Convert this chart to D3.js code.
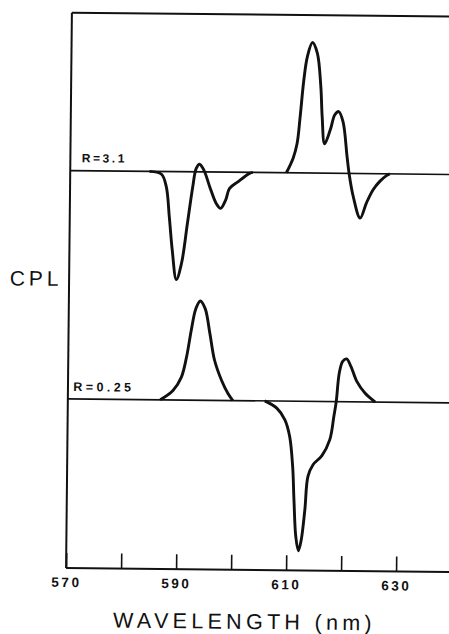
<!DOCTYPE html>
<html><head><meta charset="utf-8">
<script src="https://cdn.jsdelivr.net/npm/d3@7"></script>
<style>body{margin:0;background:#fff}svg{display:block}</style>
</head><body>
<svg id="chart" width="449" height="634"></svg>
<script>
// Wavelength (nm) and CPL (arbitrary units) for R = 3.1
const wavelengthR31 = [584.4, 586.6, 587.5, 588.1, 588.7, 589.5, 590.4, 591.4, 592.3, 592.9, 593.5, 594.3, 595.4, 596.6, 597.4, 598.3, 599.0, 600.5, 602.6, 603.2, 606.3, 609.3, 610.5, 611.2, 611.7, 612.3, 612.9, 613.8, 614.7, 615.4, 615.7, 616.2, 617.2, 618.0, 618.7, 619.5, 620.3, 620.7, 621.5, 622.8, 623.9, 625.1, 626.3, 627.5, 628.1];
const cplR31 = [0, -2.8, -15.4, -45.4, -78.7, -107.9, -91.8, -51.8, -15.1, 3.4, 7.7, 1.8, -14.9, -31.4, -36.3, -28, -16.2, -9.5, -1, 0, 0, 0, 14.6, 29.6, 56.3, 93, 116.4, 130.5, 119.9, 86.6, 56.6, 29.4, 43.4, 58.5, 61.8, 51.8, 16.9, 0, -23, -44.5, -29.4, -16, -7.6, -1.8, 0];
// Wavelength (nm) and CPL (arbitrary units) for R = 0.25
const wavelengthR025 = [586.8, 589.1, 590.6, 591.5, 592.3, 593.1, 593.9, 594.8, 595.7, 596.6, 597.9, 599.1, 600.0, 603.0, 605.8, 608.0, 609.5, 610.4, 611.0, 611.3, 611.7, 612.2, 612.7, 613.3, 613.8, 614.7, 616.3, 617.7, 618.4, 618.8, 619.3, 619.9, 620.6, 621.4, 622.5, 624.0, 625.9];
const cplR025 = [0, 9.4, 22.9, 43, 69.7, 91.5, 99.2, 91.6, 66.7, 40.1, 20.2, 7, 0, 0, 0, -7.1, -18.7, -35.3, -65.3, -98.6, -135.3, -149.5, -138.5, -108.4, -75.1, -63.3, -54.2, -38.1, -14.7, 0, 28.7, 40.3, 42.8, 35.4, 20.5, 9, 0];
const seriesLabels = ["R=3.1", "R=0.25"];
const tickValues = [570, 580, 590, 600, 610, 620, 630];
const tickLabels = [570, 590, 610, 630];

const svg = d3.select("#chart");
const g = svg.append("g").attr("transform", "rotate(0.6, 258, 290)");

const x = d3.scaleLinear().domain([570, 640]).range([69, 454]);
const frameTop = 14.6, frameBottom = 570;
const y31 = d3.scaleLinear().domain([0, 100]).range([172.5, 72.5]);
const y025 = d3.scaleLinear().domain([0, 100]).range([400.8, 300.8]);

// frame
g.append("line").attr("x1", x(570)).attr("x2", x(570)).attr("y1", frameTop).attr("y2", frameBottom)
  .attr("stroke", "#111").attr("stroke-width", 2);
g.append("line").attr("x1", x(570)).attr("x2", 470).attr("y1", frameTop).attr("y2", frameTop)
  .attr("stroke", "#111").attr("stroke-width", 2);

// baselines
[y31, y025].forEach(ys => {
  g.append("line").attr("x1", x(570)).attr("x2", 470).attr("y1", ys(0)).attr("y2", ys(0))
    .attr("stroke", "#111").attr("stroke-width", 1.7);
});

// x axis
const axis = d3.axisBottom(x).tickValues(tickValues).tickSizeInner(-15).tickSizeOuter(0)
  .tickFormat(d => tickLabels.includes(d) ? d : "");
const ax = g.append("g").attr("transform", `translate(0,${frameBottom})`).call(axis);
ax.select(".domain").attr("stroke", "#111").attr("stroke-width", 2).attr("d", `M${x(570)},0H470`);
ax.selectAll(".tick line").attr("stroke", "#111").attr("stroke-width", 1.6);
ax.selectAll(".tick text").attr("y", 19).attr("dy", 0)
  .attr("font-family", "Liberation Sans, Arial, sans-serif").attr("font-size", 13.5)
  .attr("font-weight", "bold").attr("letter-spacing", 2.5).attr("fill", "#111");

// curves (flat stretches on the baseline are left to the baseline itself)
function flatInterior(vals) {
  return (d, i) => !(d === 0 && i > 0 && i < vals.length - 1 && vals[i - 1] === 0 && vals[i + 1] === 0);
}
const line31 = d3.line().defined(flatInterior(cplR31))
  .x((d, i) => x(wavelengthR31[i])).y(d => y31(d)).curve(d3.curveCatmullRom.alpha(0.5));
const line025 = d3.line().defined(flatInterior(cplR025))
  .x((d, i) => x(wavelengthR025[i])).y(d => y025(d)).curve(d3.curveCatmullRom.alpha(0.5));
g.append("path").attr("d", line31(cplR31)).attr("fill", "none").attr("stroke", "#111")
  .attr("stroke-width", 2.9).attr("stroke-linejoin", "round");
g.append("path").attr("d", line025(cplR025)).attr("fill", "none").attr("stroke", "#111")
  .attr("stroke-width", 2.9).attr("stroke-linejoin", "round");

// series labels
g.append("text").attr("x", 80.4).attr("y", 164.1).text(seriesLabels[0])
  .attr("font-family", "Liberation Sans, Arial, sans-serif").attr("font-size", 12)
  .attr("font-weight", "bold").attr("letter-spacing", 2.6).attr("fill", "#111");
g.append("text").attr("x", 74.4).attr("y", 393).text(seriesLabels[1])
  .attr("font-family", "Liberation Sans, Arial, sans-serif").attr("font-size", 12.5)
  .attr("font-weight", "bold").attr("letter-spacing", 3.4).attr("fill", "#111");

// axis titles
g.append("text").attr("x", 62.5).attr("y", 288).attr("text-anchor", "end").text("CPL")
  .attr("font-family", "Liberation Sans, Arial, sans-serif").attr("font-size", 21)
  .attr("letter-spacing", 4).attr("fill", "#111");
g.append("text").attr("x", 248).attr("y", 629).attr("text-anchor", "middle").text("WAVELENGTH (nm)")
  .attr("font-family", "Liberation Sans, Arial, sans-serif").attr("font-size", 21.5)
  .attr("letter-spacing", 4.3).attr("fill", "#111");
</script>
</body></html>
